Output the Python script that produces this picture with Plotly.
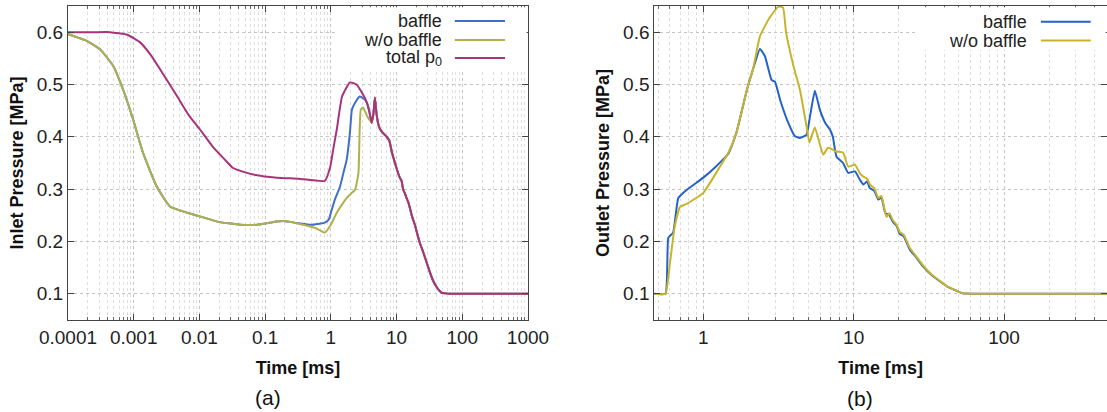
import plotly.graph_objects as go

# ---------------- (a) inlet pressure ----------------
inlet_baffle_t = [0.0001, 0.000195, 0.00031, 0.00049, 0.00069, 0.00098, 0.00138, 0.00224,
                  0.00355, 0.0065, 0.0102, 0.0186, 0.042, 0.076, 0.15, 0.19, 0.32,
                  0.5, 0.81, 0.93, 1.0, 1.15, 1.38, 1.58, 1.74, 1.95, 2.09, 2.34, 2.75,
                  3.3, 3.6, 3.9, 4.17, 4.45, 4.68, 5.0, 5.45, 5.96, 6.5, 7.08, 7.8,
                  8.5, 9.2, 10.0, 10.6, 11.2, 11.9, 12.6, 13.4, 14.2, 15.0, 15.8,
                  17.0, 17.8, 19.0, 20.4, 22.5, 25.7, 29.0, 32.4, 36.0, 40.7, 45.0,
                  49.0, 55.0, 63.0, 100.0, 300.0, 1000.0]
inlet_baffle_p = [0.596, 0.583, 0.567, 0.535, 0.490, 0.433, 0.370, 0.305,
                  0.267, 0.255, 0.248, 0.238, 0.232, 0.232, 0.238, 0.239, 0.235,
                  0.232, 0.236, 0.242, 0.255, 0.280, 0.305, 0.335, 0.356, 0.408, 0.452, 0.465, 0.477,
                  0.471, 0.462, 0.445, 0.427, 0.445, 0.475, 0.440, 0.418, 0.410, 0.405, 0.400, 0.392,
                  0.370, 0.355, 0.340, 0.330, 0.322, 0.316, 0.299, 0.292, 0.283, 0.276, 0.266,
                  0.250, 0.242, 0.232, 0.217, 0.198, 0.178, 0.158, 0.140, 0.125, 0.113, 0.106,
                  0.102, 0.101, 0.100, 0.100, 0.100, 0.100]

inlet_nobaffle_t = [0.0001, 0.000195, 0.00031, 0.00049, 0.00069, 0.00098, 0.00138, 0.00224,
                    0.00355, 0.0065, 0.0102, 0.0186, 0.042, 0.076, 0.15, 0.19, 0.38,
                    0.6, 0.81, 1.0, 1.23, 1.5, 1.74, 2.05, 2.34, 2.63, 2.85, 3.1, 3.55,
                    3.9, 4.17, 4.45, 4.68, 5.0, 5.45, 5.96, 6.5, 7.08, 7.8,
                    8.5, 9.2, 10.0, 10.6, 11.2, 11.9, 12.6, 13.4, 14.2, 15.0, 15.8,
                    17.0, 17.8, 19.0, 20.4, 22.5, 25.7, 29.0, 32.4, 36.0, 40.7, 45.0,
                    49.0, 55.0, 63.0, 100.0, 300.0, 1000.0]
inlet_nobaffle_p = [0.596, 0.583, 0.567, 0.535, 0.490, 0.433, 0.370, 0.305,
                    0.267, 0.255, 0.248, 0.238, 0.232, 0.232, 0.238, 0.239, 0.232,
                    0.225, 0.217, 0.232, 0.255, 0.272, 0.283, 0.292, 0.299, 0.331, 0.452, 0.456, 0.440,
                    0.432, 0.427, 0.445, 0.475, 0.440, 0.418, 0.410, 0.405, 0.400, 0.392,
                    0.370, 0.355, 0.340, 0.330, 0.322, 0.316, 0.299, 0.292, 0.283, 0.276, 0.266,
                    0.250, 0.242, 0.232, 0.217, 0.198, 0.178, 0.158, 0.140, 0.125, 0.113, 0.106,
                    0.102, 0.101, 0.100, 0.100, 0.100, 0.100]

total_p0_t = [0.0001, 0.00025, 0.00044, 0.0008, 0.00126, 0.0018, 0.0028, 0.0046,
              0.007, 0.0102, 0.016, 0.025, 0.032, 0.05, 0.066, 0.15, 0.32,
              0.81, 0.98, 1.1, 1.23, 1.48, 1.95, 2.45, 2.95, 3.55,
              3.9, 4.17, 4.45, 4.68, 5.0, 5.45, 5.96, 6.5, 7.08, 7.8,
              8.5, 9.2, 10.0, 10.6, 11.2, 11.9, 12.6, 13.4, 14.2, 15.0, 15.8,
              17.0, 17.8, 19.0, 20.4, 22.5, 25.7, 29.0, 32.4, 36.0, 40.7, 45.0,
              49.0, 55.0, 63.0, 100.0, 300.0, 1000.0]
total_p0_p = [0.600, 0.600, 0.600, 0.595, 0.580, 0.557, 0.520, 0.477,
              0.440, 0.414, 0.381, 0.355, 0.341, 0.332, 0.328, 0.322, 0.320,
              0.316, 0.343, 0.380, 0.414, 0.477, 0.504, 0.500, 0.485, 0.465,
              0.445, 0.427, 0.445, 0.475, 0.440, 0.418, 0.410, 0.405, 0.400, 0.392,
              0.370, 0.355, 0.340, 0.330, 0.322, 0.316, 0.299, 0.292, 0.283, 0.276, 0.266,
              0.250, 0.242, 0.232, 0.217, 0.198, 0.178, 0.158, 0.140, 0.125, 0.113, 0.106,
              0.102, 0.101, 0.100, 0.100, 0.100, 0.100]

# ---------------- (b) outlet pressure ----------------
outlet_baffle_t = [0.47, 0.56, 0.585, 0.63, 0.682, 0.77, 1.0, 1.2, 1.47, 1.66, 1.95, 2.14,
                   2.38, 2.57, 2.84, 3.0, 3.24, 3.67, 4.07, 4.39, 4.86, 5.13, 5.52, 5.96,
                   6.46, 6.95, 7.27, 7.69, 8.5, 9.2, 10.2, 11.0, 11.6, 12.3, 12.8, 13.7,
                   14.6, 15.3, 16.2, 17.3, 18.2, 19.3, 20.3, 21.5, 23.6, 26.0, 29.0, 33.0,
                   37.4, 42.0, 48.3, 53.0, 70.0, 200.0, 500.0]
outlet_baffle_p = [0.100, 0.100, 0.207, 0.217, 0.283, 0.298, 0.322, 0.342, 0.368, 0.408, 0.490, 0.529,
                   0.568, 0.554, 0.509, 0.505, 0.471, 0.427, 0.401, 0.398, 0.404, 0.440, 0.488, 0.452,
                   0.427, 0.414, 0.400, 0.362, 0.350, 0.331, 0.334, 0.318, 0.309, 0.315, 0.302, 0.297,
                   0.280, 0.284, 0.255, 0.250, 0.238, 0.230, 0.214, 0.210, 0.185, 0.170, 0.152, 0.136,
                   0.124, 0.114, 0.106, 0.101, 0.100, 0.100, 0.100]

outlet_nobaffle_t = [0.47, 0.56, 0.6, 0.645, 0.7, 0.776, 1.0, 1.29, 1.47, 1.66, 1.95, 2.14,
                     2.38, 2.75, 3.16, 3.39, 3.55, 3.98, 4.39, 4.86, 5.08, 5.52, 6.27, 6.76,
                     7.69, 8.5, 9.2, 10.2, 11.0, 11.6, 12.3, 12.8, 13.7,
                     14.6, 15.3, 16.5, 17.3, 18.2, 19.3, 20.3, 21.5, 23.6, 26.0, 29.0, 33.0,
                     37.4, 42.0, 48.3, 53.0, 70.0, 200.0, 500.0]
outlet_nobaffle_p = [0.100, 0.100, 0.159, 0.228, 0.266, 0.272, 0.293, 0.343, 0.370, 0.408, 0.490, 0.529,
                     0.592, 0.627, 0.649, 0.647, 0.600, 0.535, 0.490, 0.420, 0.389, 0.418, 0.366, 0.379,
                     0.372, 0.370, 0.343, 0.347, 0.330, 0.324, 0.320, 0.309, 0.302,
                     0.283, 0.287, 0.247, 0.254, 0.241, 0.232, 0.218, 0.213, 0.188, 0.172, 0.154, 0.137,
                     0.125, 0.114, 0.106, 0.101, 0.100, 0.100, 0.100]

inlet_ticks = [0.0001, 0.001, 0.01, 0.1, 1, 10, 100, 1000]
inlet_tick_text = ["0.0001", "0.001", "0.01", "0.1", "1", "10", "100", "1000"]
outlet_ticks = [1, 10, 100]
outlet_tick_text = ["1", "10", "100"]
pressure_ticks = [0.1, 0.2, 0.3, 0.4, 0.5, 0.6]
pressure_tick_text = ["0.1", "0.2", "0.3", "0.4", "0.5", "0.6"]

BLUE_A, OLIVE_A, MAGENTA = "#3f6fc6", "#b0b04c", "#a8337a"
BLUE_B, MUSTARD_B = "#2462cb", "#c8b42c"
FONT = "Liberation Sans, Arial, sans-serif"
W, H = 1107, 412


def curve(x, y, color, xa, ya):
    return go.Scatter(x=x, y=y, mode="lines", xaxis=xa, yaxis=ya, hoverinfo="skip",
                      line=dict(color=color, width=2, shape="spline", smoothing=0.4))


fig = go.Figure()
fig.add_trace(curve(inlet_baffle_t, inlet_baffle_p, BLUE_A, "x", "y"))
fig.add_trace(curve(inlet_nobaffle_t, inlet_nobaffle_p, OLIVE_A, "x", "y"))
fig.add_trace(curve(total_p0_t, total_p0_p, MAGENTA, "x", "y"))
fig.add_trace(curve(outlet_baffle_t, outlet_baffle_p, BLUE_B, "x2", "y2"))
fig.add_trace(curve(outlet_nobaffle_t, outlet_nobaffle_p, MUSTARD_B, "x2", "y2"))


def minor_vals(lo_exp, hi_exp):
    return [m * 10 ** e for e in range(lo_exp, hi_exp) for m in range(2, 10)]


def px_dom(a, b, total):
    return [a / total, b / total]


y_dom = [(H - 320) / H, (H - 6) / H]
axis_common = dict(showline=True, linecolor="#444444", linewidth=1, mirror="ticks",
                   ticks="inside", ticklen=6, tickcolor="#444444", automargin=False,
                   showgrid=True, gridcolor="#c4c4c4", griddash="dot", gridwidth=1,
                   zeroline=False, tickfont=dict(family=FONT, size=19, color="#222222"))
title_font = dict(family=FONT, size=18, color="#111111")
xa = dict(axis_common, type="log", range=[-4, 3], domain=px_dom(68, 528, W),
          tickvals=inlet_ticks, ticktext=inlet_tick_text, anchor="y",
          minor=dict(tickvals=minor_vals(-4, 3), ticks="inside", ticklen=3, tickcolor="#666666",
                     showgrid=True, gridcolor="#dedede", griddash="dot"),
          title=dict(text="<b>Time [ms]</b>", font=title_font, standoff=14))
xb = dict(axis_common, type="log", range=[-0.326, 2.685], domain=px_dom(654.3, W, W),
          tickvals=outlet_ticks, ticktext=outlet_tick_text, anchor="y2",
          minor=dict(tickvals=minor_vals(-1, 3), ticks="inside", ticklen=3, tickcolor="#666666",
                     showgrid=True, gridcolor="#dedede", griddash="dot"),
          title=dict(text="<b>Time [ms]</b>", font=title_font, standoff=14))
ya = dict(axis_common, range=[0.05, 0.65], domain=y_dom, anchor="x",
          tickvals=pressure_ticks, ticktext=pressure_tick_text,
          title=dict(text="<b>Inlet Pressure [MPa]</b>", font=title_font, standoff=8))
yb = dict(axis_common, range=[0.05, 0.65], domain=y_dom, anchor="x2",
          tickvals=pressure_ticks, ticktext=pressure_tick_text,
          title=dict(text="<b>Outlet Pressure [MPa]</b>", font=title_font, standoff=8))

shapes = []
annotations = []


def add_key(xref, yref, box_x0, box_y0, text_x, line_x0, line_x1, rows):
    # white panel behind the key, then one label + sample line per series
    shapes.append(dict(type="rect", xref=xref, yref=yref, x0=box_x0, x1=0.997, y0=box_y0, y1=0.996,
                       fillcolor="white", line=dict(width=0), layer="above"))
    for label, color, yy in rows:
        annotations.append(dict(xref=xref, yref=yref, x=text_x, y=yy, text=label, showarrow=False,
                                xanchor="right", yanchor="middle", height=18,
                                font=dict(family=FONT, size=18, color="#222222")))
        shapes.append(dict(type="line", xref=xref, yref=yref, x0=line_x0, x1=line_x1, y0=yy, y1=yy,
                           line=dict(color=color, width=2), layer="above"))


add_key("x domain", "y domain", 0.58, 0.80, 0.817, 0.841, 0.950,
        [("baffle", BLUE_A, 0.952), ("w/o baffle", OLIVE_A, 0.892),
         ("total p<sub>0</sub>", MAGENTA, 0.834)])
add_key("x2 domain", "y2 domain", 0.576, 0.86, 0.828, 0.854, 0.964,
        [("baffle", BLUE_B, 0.950), ("w/o baffle", MUSTARD_B, 0.890)])

annotations.append(dict(xref="paper", yref="paper", x=268 / W, y=(H - 397) / H, text="(a)",
                        showarrow=False, xanchor="center", yanchor="middle",
                        font=dict(family=FONT, size=21, color="#111111")))
annotations.append(dict(xref="paper", yref="paper", x=860 / W, y=(H - 398) / H, text="(b)",
                        showarrow=False, xanchor="center", yanchor="middle",
                        font=dict(family=FONT, size=21, color="#111111")))

fig.update_layout(width=W, height=H, margin=dict(l=0, r=0, t=0, b=0),
                  paper_bgcolor="white", plot_bgcolor="white", showlegend=False,
                  xaxis=xa, yaxis=ya, xaxis2=xb, yaxis2=yb,
                  shapes=shapes, annotations=annotations)

fig.write_html("out.html")
